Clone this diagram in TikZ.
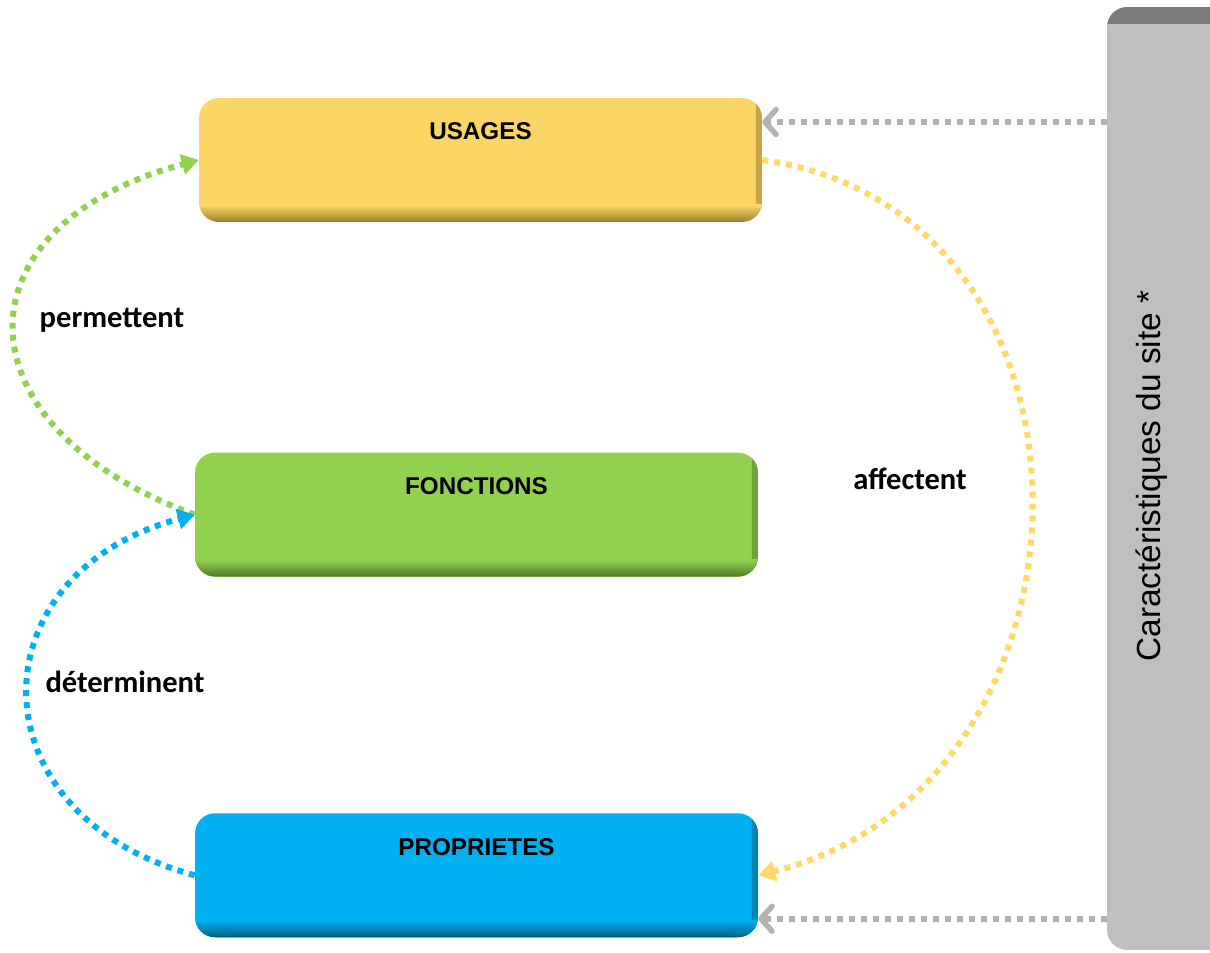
\documentclass[tikz,border=0pt]{standalone}
\usepackage{fontspec}
\setmainfont{Liberation Sans}
\newfontfamily\verbfont{Carlito}
\usetikzlibrary{arrows.meta, positioning}

\definecolor{usagecol}{HTML}{FCD664}
\definecolor{usagedark}{HTML}{9C7F2E}
\definecolor{fonctcol}{HTML}{92D050}
\definecolor{fonctdark}{HTML}{4F7A28}
\definecolor{propcol}{HTML}{00B0F0}
\definecolor{propdark}{HTML}{005F85}
\definecolor{sitecol}{HTML}{BFBFBF}
\definecolor{sitedark}{HTML}{7A7A7A}
\definecolor{sitedots}{HTML}{B2B2B2}
\definecolor{affectcol}{HTML}{FFD966}

\begin{document}
\begin{tikzpicture}[
        x=0.02cm, y=0.02cm,
        node distance=4.6cm,
        box/.style={
            rectangle,
            rounded corners=0.4cm,
            minimum width=11.26cm,
            minimum height=2.48cm,
            inner sep=0pt,
            text height=0.84cm,
            text depth=1.64cm,
            align=center,
            font=\fontsize{13.8}{16}\selectfont\bfseries
        },
        bevel/.style 2 args={
            fill=#1,
            path picture={
                \shade[left color=#1, right color=#1!45!#2, sharp corners]
                    ([xshift=-0.12cm]path picture bounding box.north east)
                    rectangle (path picture bounding box.south east);
                \shade[top color=#1, bottom color=#2, sharp corners]
                    ([yshift=0.34cm]path picture bounding box.south west)
                    rectangle (path picture bounding box.south east);
            }
        },
        sitebar/.style={
            rectangle,
            rounded corners=0.4cm,
            minimum width=2.66cm,
            minimum height=18.86cm,
            inner sep=0pt,
            fill=sitecol,
            path picture={
                \shade[top color=sitedark, bottom color=sitecol, sharp corners]
                    (path picture bounding box.north west)
                    rectangle ([yshift=-0.32cm]path picture bounding box.north east);
            }
        },
        verb/.style={
            font=\verbfont\fontsize{17.4}{20}\selectfont\bfseries,
            anchor=base
        },
        link/.style={
            line width=0.12cm,
            dash pattern=on 0.12cm off 0.12cm,
            -{Triangle[length=0.34cm,width=0.4cm]}
        },
        siteline/.style={
            sitedots,
            line width=0.11cm,
            dash pattern=on 0.12cm off 0.12cm,
            -{Straight Barb[length=0.22cm,width=0.5cm,round]}
        }
    ]
    \useasboundingbox (0,0) rectangle (1210,953);

    \node[box, bevel={usagecol}{usagedark}] (usages) at (480.5,793) {USAGES};
    \node[box, bevel={fonctcol}{fonctdark}, below=of usages, xshift=-0.08cm] (fonctions) {FONCTIONS};
    \node[box, bevel={propcol}{propdark}, below=4.72cm of fonctions] (proprietes) {PROPRIETES};

    \node[sitebar] (site) at (1173.5,474.5) {};
    \node[rotate=90, anchor=base, font=\fontsize{19}{22}\selectfont] (sitetext) at (1160,477) {Caractéristiques du site *};

    \node[verb] (permettent) at (112,625) {permettent};
    \node[verb] (determinent) at (125,260) {déterminent};
    \node[verb] (affectent) at (910,463) {affectent};

    % boucles entre les niveaux
    \draw[link, fonctcol] (fonctions.west) .. controls +(160:5.1cm) and +(195:5.1cm) .. (usages.west);
    \draw[link, propcol] (proprietes.west) .. controls +(165:4.6cm) and +(195:4.6cm) .. (fonctions.west);
    \draw[link, affectcol] (usages.east) .. controls +(-8:7.36cm) and +(14:7.36cm) .. (proprietes.east);

    % influence du site
    \coordinate (usagesin) at ([yshift=0.76cm]usages.east);
    \coordinate (propin) at ([yshift=-0.87cm]proprietes.east);
    \draw[siteline] (usagesin -| site.west) -- (usagesin);
    \draw[siteline] (propin -| site.west) -- (propin);
\end{tikzpicture}
\end{document}
